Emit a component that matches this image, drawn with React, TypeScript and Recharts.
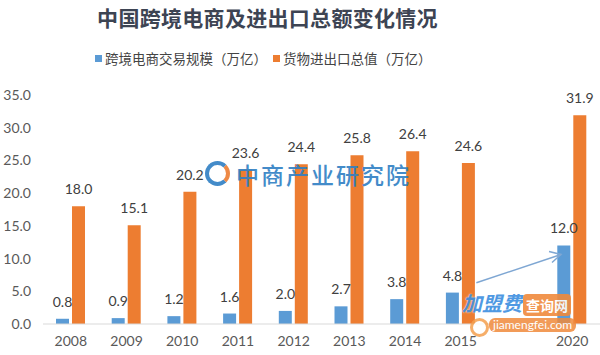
import { BarChart, Bar, XAxis, YAxis, LabelList, ReferenceLine } from "recharts";

const years = ["2008", "2009", "2010", "2011", "2012", "2013", "2014", "2015", "", "2020"];
const crossBorder = [0.8, 0.9, 1.2, 1.6, 2.0, 2.7, 3.8, 4.8, null, 12.0];
const tradeTotal = [18.0, 15.1, 20.2, 23.6, 24.4, 25.8, 26.4, 24.6, null, 31.9];
const yTicks = [0, 5, 10, 15, 20, 25, 30, 35];

const BLUE = "#5b9bd5";
const ORANGE = "#ed7d31";
const NUM_FONT = "Lato, 'Noto Sans', sans-serif";
const CJK_FONT = "'Noto Sans CJK SC', sans-serif";

const data = years.map((year, i) => ({
  year,
  cross: crossBorder[i],
  trade: tradeTotal[i],
}));

const fmt = (v: any) => (v === null || v === undefined ? "" : Number(v).toFixed(1));

function Arrow(props: any) {
  const { x1, y1, x2, y2 } = props;
  if ([x1, y1, x2, y2].some((v) => typeof v !== "number")) return null;
  // trim the ends so the arrow runs between the bars
  const sx = x1 + (x2 - x1) * 0.14;
  const sy = y1 + (y2 - y1) * 0.14;
  const ex = x1 + (x2 - x1) * 0.9;
  const ey = y1 + (y2 - y1) * 0.9;
  return (
    <g>
      <line x1={sx} y1={sy} x2={ex} y2={ey} stroke="#7fa7d3" strokeWidth={1.5} />
      <path
        d={`M${ex - 12} ${ey - 3} L${ex} ${ey} L${ex - 9} ${ey + 8}`}
        fill="none"
        stroke="#7fa7d3"
        strokeWidth={1.5}
      />
    </g>
  );
}

export default function App() {
  return (
    <div style={{ position: "absolute", left: 0, top: 0, width: 600, height: 355, background: "#fff", overflow: "hidden" }}>
      <div
        style={{
          position: "absolute",
          top: 2,
          left: 0,
          width: 535,
          textAlign: "center",
          fontFamily: CJK_FONT,
          fontWeight: 700,
          fontSize: 21,
          color: "#3d4453",
          letterSpacing: 0.3,
        }}
      >
        中国跨境电商及进出口总额变化情况
      </div>
      <div
        style={{
          position: "absolute",
          top: 48,
          left: 95,
          display: "flex",
          alignItems: "center",
          fontFamily: CJK_FONT,
          fontSize: 13.5,
          color: "#444",
          whiteSpace: "nowrap",
        }}
      >
        <span style={{ width: 7, height: 7, background: BLUE, display: "inline-block", marginRight: 3 }} />
        <span>跨境电商交易规模（万亿）</span>
        <span style={{ width: 7, height: 7, background: ORANGE, display: "inline-block", marginLeft: 6, marginRight: 3 }} />
        <span>货物进出口总值（万亿）</span>
      </div>

      <BarChart
        width={600}
        height={355}
        data={data}
        margin={{ top: 95, right: 0, bottom: 0, left: 0 }}
        barSize={13}
        barGap={3}
        style={{ position: "absolute", left: 0, top: 0 }}
      >
        <XAxis
          dataKey="year"
          height={31}
          axisLine={{ stroke: "#d9d9d9" }}
          tickLine={false}
          tick={{ fontFamily: NUM_FONT, fontSize: 14, fill: "#595959" }}
          tickMargin={6}
        />
        <YAxis
          width={43}
          domain={[0, 35]}
          ticks={yTicks}
          axisLine={false}
          tickLine={false}
          tickFormatter={(v: number) => v.toFixed(1)}
          tick={{ fontFamily: NUM_FONT, fontSize: 14, fill: "#595959" }}
          tickMargin={6}
          interval={0}
        />
        <Bar dataKey="cross" fill={BLUE} isAnimationActive={false}>
          <LabelList
            dataKey="cross"
            position="top"
            offset={12}
            formatter={fmt}
            style={{ fontFamily: NUM_FONT, fontSize: 14, fill: "#404040" }}
          />
        </Bar>
        <Bar dataKey="trade" fill={ORANGE} isAnimationActive={false}>
          <LabelList
            dataKey="trade"
            position="top"
            offset={12}
            formatter={fmt}
            style={{ fontFamily: NUM_FONT, fontSize: 14, fill: "#404040" }}
          />
        </Bar>
        <ReferenceLine
          segment={[
            { x: "2015", y: 5.5 },
            { x: "2020", y: 11.2 },
          ]}
          shape={Arrow}
          ifOverflow="visible"
        />
      </BarChart>

      {/* watermark: 中商产业研究院 logo */}
      <div
        style={{
          position: "absolute",
          left: 205,
          top: 161,
          width: 17,
          height: 17,
          borderRadius: "50%",
          border: "4px solid #2f7fc4",
          borderRightColor: "#ed7d31",
          borderTopColor: "#2f7fc4",
          opacity: 0.9,
        }}
      />
      <div
        style={{
          position: "absolute",
          left: 236,
          top: 162,
          fontFamily: CJK_FONT,
          fontSize: 23,
          fontWeight: 500,
          color: "#2f7fc4",
          opacity: 0.9,
          letterSpacing: 2,
          whiteSpace: "nowrap",
          lineHeight: "24px",
        }}
      >
        中商产业研究院
      </div>

      {/* watermark: 加盟费查询网 */}
      <div style={{ position: "absolute", left: 462, top: 290, whiteSpace: "nowrap", opacity: 0.9, lineHeight: "26px" }}>
        <span
          style={{
            fontFamily: CJK_FONT,
            fontWeight: 700,
            fontStyle: "italic",
            fontSize: 20,
            color: "#3d8fe0",
            textShadow: "0 0 2px #fff",
          }}
        >
          加盟费
        </span>
        <span
          style={{
            fontFamily: CJK_FONT,
            fontWeight: 700,
            fontSize: 14,
            color: "#fff",
            background: "#f08a3c",
            borderRadius: 4,
            padding: "1px 3px",
            marginLeft: 1,
          }}
        >
          查询网
        </span>
      </div>
      <div
        style={{
          position: "absolute",
          left: 470,
          top: 318,
          width: 13,
          height: 13,
          borderRadius: "50%",
          border: "3px solid #f5a050",
          background: "#fff",
          opacity: 0.85,
        }}
      />
      <div
        style={{
          position: "absolute",
          left: 489,
          top: 318,
          fontFamily: NUM_FONT,
          fontSize: 12,
          lineHeight: "14px",
          color: "#fff",
          background: "#f08a3c",
          borderRadius: 6,
          padding: "0 4px",
          opacity: 0.85,
          whiteSpace: "nowrap",
        }}
      >
        jiamengfei.com
      </div>
    </div>
  );
}
